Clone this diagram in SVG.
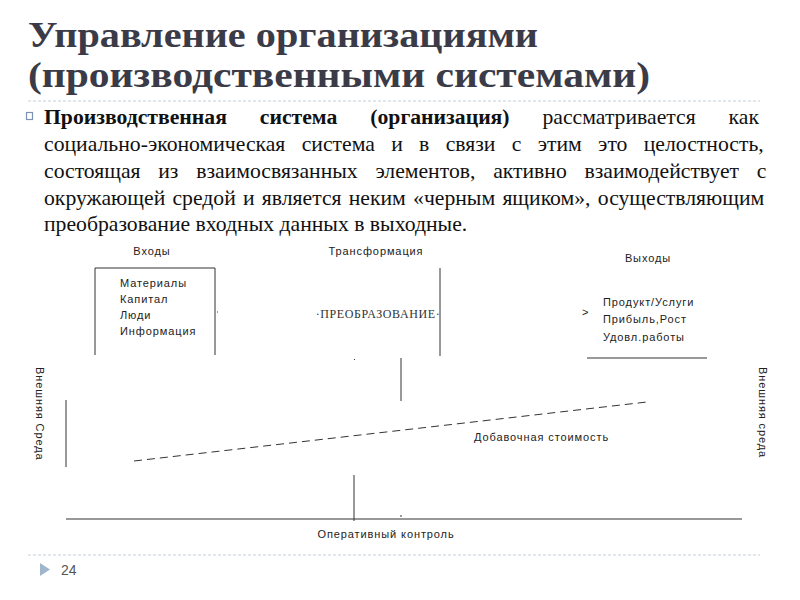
<svg xmlns="http://www.w3.org/2000/svg" width="800" height="600" viewBox="0 0 800 600">
<style>
.title{font-family:"Liberation Serif",serif;font-weight:bold;font-size:35px;fill:#3b3b48}
.para{font-family:"Liberation Serif",serif;font-size:21.7px;fill:#111}
.dg{font-family:"Liberation Sans",sans-serif;font-size:11px;fill:#222;letter-spacing:0.9px}
.ln{stroke:#333;stroke-width:1;fill:none}
.dash{stroke:#333;stroke-width:1;fill:none;stroke-dasharray:8 5}
.sep{stroke:#c3d0dc;stroke-width:1;stroke-dasharray:3 2}
</style>
<rect width="800" height="600" fill="#fff"/>
<g id="title">
<text class="title" x="28" y="47" textLength="510" lengthAdjust="spacingAndGlyphs">Управление организациями</text>
<text class="title" x="28" y="87" textLength="622" lengthAdjust="spacingAndGlyphs">(производственными системами)</text>
</g>
<line class="sep" x1="28" y1="101" x2="760" y2="101"/>
<rect x="26.5" y="112.5" width="6" height="7" fill="none" stroke="#7c93b5" stroke-width="1.2"/>
<g id="paragraph" class="para">
<text x="44" y="124" style="word-spacing:27.5px"><tspan font-weight="bold">Производственная система (организация)</tspan> рассматривается как</text>
<text x="44" y="151" style="word-spacing:10.9px">социально-экономическая система и в связи с этим это целостность,</text>
<text x="44" y="178" style="word-spacing:12.3px">состоящая из взаимосвязанных элементов, активно взаимодействует с</text>
<text x="44" y="205" style="word-spacing:1.8px">окружающей средой и является неким «черным ящиком», осуществляющим</text>
<text x="44" y="231">преобразование входных данных в выходные.</text>
</g>
<g id="inputs">
<text class="dg" x="152" y="255" text-anchor="middle">Входы</text>
<text class="dg" x="120" y="287">Материалы</text>
<text class="dg" x="120" y="303">Капитал</text>
<text class="dg" x="120" y="319">Люди</text>
<text class="dg" x="120" y="335">Информация</text>
</g>
<g id="transformation">
<text class="dg" x="376" y="255" text-anchor="middle">Трансформация</text>
<text x="378" y="318" text-anchor="middle" font-family="Liberation Serif,serif" font-size="12" letter-spacing="0.6" fill="#333">·ПРЕОБРАЗОВАНИЕ·</text>
</g>
<g id="outputs">
<text class="dg" x="648" y="262" text-anchor="middle">Выходы</text>
<text class="dg" x="603" y="306">Продукт/Услуги</text>
<text class="dg" x="603" y="323">Прибыль,Рост</text>
<text class="dg" x="603" y="341">Удовл.работы</text>
<text class="dg" x="582" y="316" font-size="8">&gt;</text>
</g>
<g id="env-left">
<text class="dg" transform="translate(36,367) rotate(90)" letter-spacing="1.3">Внешняя Среда</text>
</g>
<g id="env-right">
<text class="dg" transform="translate(759,367) rotate(90)" letter-spacing="1.3">Внешняя среда</text>
</g>
<g id="value-added">
<text class="dg" x="474" y="441">Добавочная стоимость</text>
</g>
<g id="control">
<text class="dg" x="386" y="538" text-anchor="middle">Оперативный контроль</text>
</g>
<g id="connectors">
<polyline class="ln" points="95,355 95,268 215,268 215,355"/>
<line class="ln" x1="217" y1="312" x2="218" y2="312"/>
<line class="ln" x1="440" y1="268" x2="440" y2="356"/>
<line class="ln" x1="354" y1="359" x2="355" y2="360"/>
<line class="ln" x1="587" y1="358" x2="707" y2="358"/>
<line class="ln" x1="401" y1="358" x2="401" y2="401"/>
<line class="ln" x1="66" y1="400" x2="66" y2="467"/>
<line class="dash" x1="134" y1="461" x2="647" y2="402"/>
<line class="ln" x1="354" y1="475" x2="354" y2="521"/>
<line class="ln" x1="401" y1="515" x2="401" y2="517"/>
<line class="ln" x1="66" y1="519" x2="742" y2="519"/>
</g>
<line class="sep" x1="28" y1="555" x2="760" y2="555"/>
<polygon points="40,563 40,576 50,569.5" fill="#9fb6cc"/>
<text x="61" y="575" font-family="Liberation Sans,sans-serif" font-size="14" fill="#555">24</text>
</svg>
